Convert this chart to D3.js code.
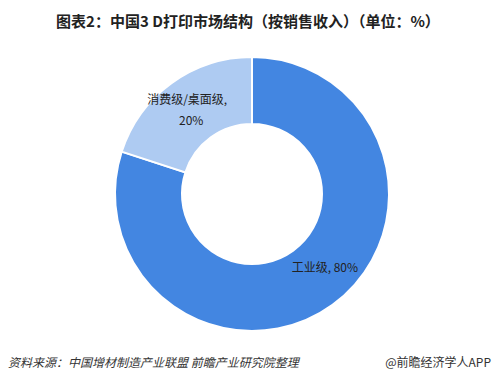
<!DOCTYPE html>
<html><head><meta charset="utf-8">
<script src="https://cdn.jsdelivr.net/npm/d3@7/dist/d3.min.js"></script>
<style>
html,body{margin:0;padding:0;background:#fff;}
svg{display:block;font-family:"Noto Sans CJK SC","Noto Sans",sans-serif;}
</style></head>
<body><svg id="chart" width="500" height="380"></svg>
<script>
const categories = ["工业级", "消费级/桌面级"];
const values = [80, 20];
const colors = ["#4386e1", "#aecbf2"];
const titleText = "图表2：中国3 D打印市场结构（按销售收入）（单位：%）";
const sourceText = "资料来源：中国增材制造产业联盟 前瞻产业研究院整理";
const brandText = "@前瞻经济学人APP";

const svg = d3.select("#chart");
const cx = 252, cy = 194, rOuter = 137, rInner = 70;

svg.append("text").attr("x", 248).attr("y", 27).attr("text-anchor", "middle")
  .attr("font-size", 15).attr("font-weight", "bold").attr("fill", "#222").text(titleText);

const pie = d3.pie().sort(null).value(d => d.v);
const data = pie(categories.map((c, i) => ({c, v: values[i], col: colors[i]})));
const arc = d3.arc().innerRadius(rInner).outerRadius(rOuter);
const g = svg.append("g").attr("transform", `translate(${cx},${cy})`);
g.selectAll("path").data(data).join("path")
  .attr("d", arc).attr("fill", d => d.data.col)
  .attr("stroke", "#fff").attr("stroke-width", 2);

// labels
const lab = g.selectAll("text.lab").data(data).join("text").attr("class", "lab")
  .attr("font-size", 12).attr("fill", "#222").attr("text-anchor", "middle");
lab.each(function(d, i) {
  const [x, y] = arc.centroid(d);
  const t = d3.select(this);
  if (i === 0) {
    t.attr("x", x + 12).attr("y", y - 6).text(`${d.data.c}, ${d.data.v}%`);
  } else {
    t.append("tspan").attr("x", x - 4).attr("y", y - 6).text(d.data.c + ",");
    t.append("tspan").attr("x", x).attr("y", y + 15).text(d.data.v + "%");
  }
});

svg.append("text").attr("x", 8).attr("y", 367).attr("font-size", 12)
  .attr("font-style", "italic").attr("fill", "#333").text(sourceText);
svg.append("text").attr("x", 491).attr("y", 367).attr("font-size", 12)
  .attr("text-anchor", "end").attr("fill", "#333").text(brandText);
</script></body></html>
